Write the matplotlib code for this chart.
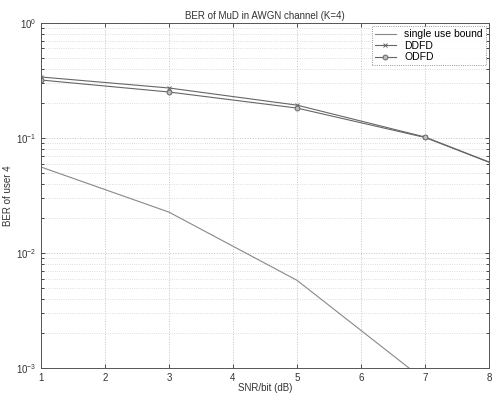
import matplotlib
matplotlib.use("Agg")
import matplotlib.pyplot as plt
from matplotlib.ticker import LogLocator, NullFormatter

plt.rcParams['font.family'] = ['Liberation Sans', 'DejaVu Sans']

# SNR/bit points (dB); last point lies past the axis and gets clipped
snr = [1, 3, 5, 7, 9]
single_bound = [0.056, 0.0227, 0.0058, 0.00078, 0.00003]
ddfd = [0.339, 0.272, 0.193, 0.102, 0.0375]
odfd = [0.319, 0.251, 0.182, 0.101, 0.0375]

fig = plt.figure(figsize=(4.92, 3.95), dpi=100)
ax = fig.add_axes([0.083, 0.068, 0.911, 0.874])

ax.semilogy(snr, single_bound, '-', color='#888888', lw=0.8, label='single use bound')
ax.semilogy(snr, ddfd, '-x', color='#666666', lw=0.8, ms=3.5, mew=0.7, label='DDFD')
ax.semilogy(snr, odfd, '-o', color='#666666', lw=0.8, ms=3.5, mew=0.7,
            mfc='#bbbbbb', label='ODFD')

ax.set_xlim(1, 8)
ax.set_ylim(1e-3, 1)
ax.set_xticks(range(1, 9))
ax.yaxis.set_major_locator(LogLocator(base=10, numticks=10))
ax.yaxis.set_minor_locator(LogLocator(base=10, subs=range(2, 10), numticks=10))
ax.yaxis.set_minor_formatter(NullFormatter())

ax.grid(True, which='major', linestyle=':', color='#c4c4c4', lw=0.7)
ax.grid(True, which='minor', axis='y', linestyle=':', color='#d4d4d4', lw=0.6)
ax.tick_params(direction='in', labelsize=7, top=True, right=True, colors='#333333',
               length=3, width=0.6)
ax.tick_params(which='minor', direction='in', length=2, width=0.5, right=True)
for s in ax.spines.values():
    s.set_color('#555555')
    s.set_linewidth(0.7)

ax.set_title('BER of MuD in AWGN channel (K=4)', fontsize=7, color='#333333', pad=3)
ax.set_xlabel('SNR/bit (dB)', fontsize=7, color='#333333', labelpad=0)
ax.set_ylabel('BER of user 4', fontsize=7, color='#333333', labelpad=2)

leg = ax.legend(loc='upper right', fontsize=7.5, frameon=True, fancybox=False,
                borderpad=0.3, handlelength=2.0, labelspacing=0.15, borderaxespad=0.3)
leg.get_frame().set_edgecolor('#555555')
leg.get_frame().set_linewidth(0.6)
leg.get_frame().set_linestyle(':')

fig.savefig('out.png', dpi=100)
